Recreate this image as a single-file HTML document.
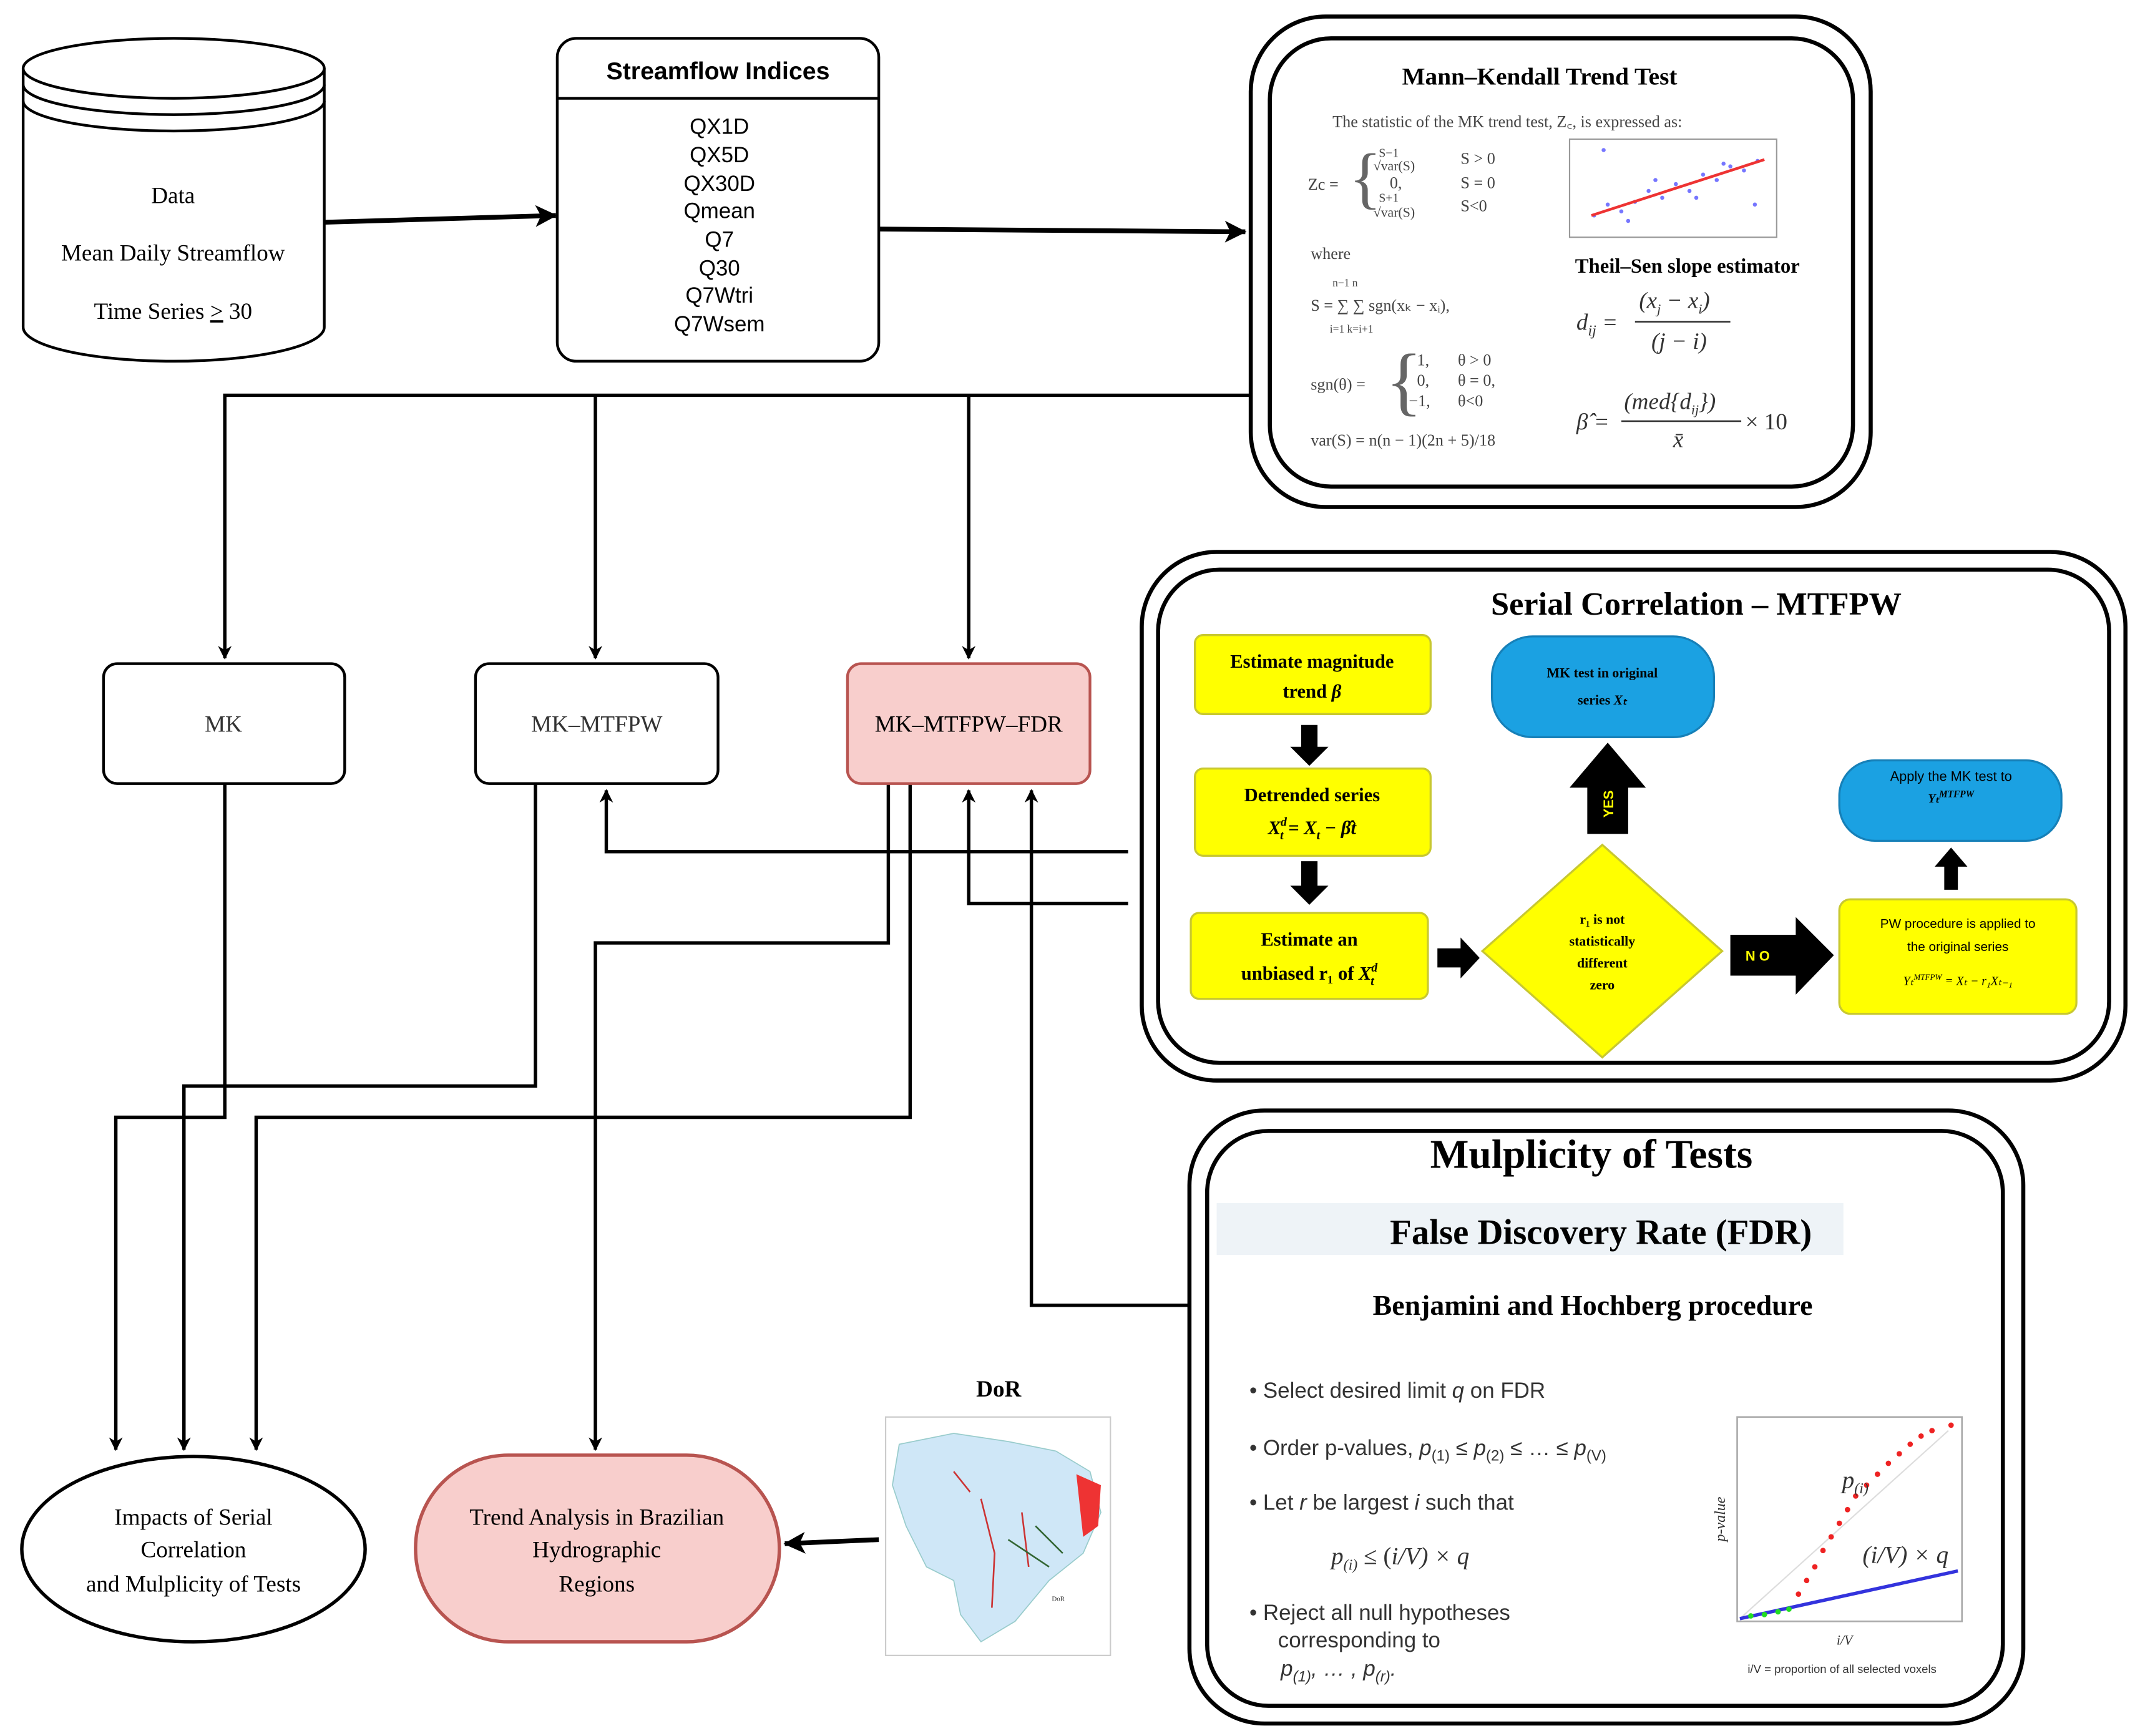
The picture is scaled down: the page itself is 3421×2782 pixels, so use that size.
<!DOCTYPE html>
<html><head><meta charset="utf-8"><style>
html,body{margin:0;padding:0;background:#fff}
svg{display:block}
</style></head><body>
<svg width="3421" height="2782" viewBox="0 0 1567 1274" xmlns="http://www.w3.org/2000/svg" font-family="Liberation Serif, serif">
<defs>
<marker id="a" markerWidth="10" markerHeight="10" refX="9" refY="5" orient="auto" markerUnits="userSpaceOnUse"><path d="M0,0 L10,5 L0,10 L3,5 z" fill="#000"/></marker>
<marker id="b" markerWidth="16" markerHeight="16" refX="15" refY="8" orient="auto" markerUnits="userSpaceOnUse"><path d="M0,0 L16,8 L0,16 L4,8 z" fill="#000"/></marker>
</defs>
<rect width="1567" height="1274" fill="#fff"/>

<!-- Cylinder -->
<g stroke="#000" stroke-width="2" fill="#fff">
<path d="M17,50 L17,240 A110.5,25 0 0 0 238,240 L238,50"/>
<ellipse cx="127.5" cy="50" rx="110.5" ry="22"/>
<path d="M17,62 A110.5,22 0 0 0 238,62" fill="none"/>
<path d="M17,74 A110.5,22 0 0 0 238,74" fill="none"/>
</g>
<g font-size="17" text-anchor="middle">
<text x="127" y="149">Data</text>
<text x="127" y="191">Mean Daily Streamflow</text>
<text x="127" y="234">Time Series <tspan text-decoration="underline">&gt;</tspan> 30</text>
</g>

<!-- arrows top -->
<g stroke="#000" stroke-width="3.5" fill="none">
<line x1="238" y1="163" x2="408" y2="158" marker-end="url(#b)"/>
<line x1="645" y1="168" x2="914" y2="170" marker-end="url(#b)"/>
</g>

<!-- Streamflow Indices -->
<rect x="409" y="28" width="236" height="237" rx="14" fill="#fff" stroke="#000" stroke-width="2"/>
<line x1="409" y1="72" x2="645" y2="72" stroke="#000" stroke-width="2"/>
<g font-family="Liberation Sans, sans-serif" text-anchor="middle">
<text x="527" y="58" font-size="18" font-weight="bold">Streamflow Indices</text>
<g font-size="16">
<text x="528" y="98">QX1D</text><text x="528" y="119">QX5D</text><text x="528" y="140">QX30D</text>
<text x="528" y="160">Qmean</text><text x="528" y="181">Q7</text><text x="528" y="202">Q30</text>
<text x="528" y="222">Q7Wtri</text><text x="528" y="243">Q7Wsem</text>
</g></g>

<!-- MK Trend Test box -->
<rect x="918" y="12" width="455" height="360" rx="55" fill="#fff" stroke="#000" stroke-width="3"/>
<rect x="932" y="28" width="428" height="329" rx="45" fill="#fff" stroke="#000" stroke-width="3"/>
<text x="1130" y="62" font-size="18" font-weight="bold" text-anchor="middle">Mann–Kendall Trend Test</text>
<g font-size="12" fill="#444">
<text x="978" y="93">The statistic of the MK trend test, Z꜀, is expressed as:</text>
<text x="960" y="139">Zc =</text>
<text x="990" y="147" font-size="50" fill="#666">{</text>
<text x="1012" y="115" font-size="9">S−1</text><text x="1008" y="125" font-size="10">√var(S)</text>
<text x="1072" y="120">S &gt; 0</text>
<text x="1020" y="138">0,</text><text x="1072" y="138">S = 0</text>
<text x="1012" y="148" font-size="9">S+1</text><text x="1008" y="159" font-size="10">√var(S)</text>
<text x="1072" y="155">S&lt;0</text>
<text x="962" y="190">where</text>
<text x="962" y="228">S = ∑ ∑ sgn(xₖ − xᵢ),</text>
<text x="978" y="210" font-size="8">n−1  n</text>
<text x="976" y="244" font-size="8">i=1  k=i+1</text>
<text x="962" y="286">sgn(θ) =</text>
<text x="1017" y="298" font-size="56" fill="#666">{</text>
<text x="1040" y="268">1,</text><text x="1070" y="268">θ &gt; 0</text>
<text x="1040" y="283">0,</text><text x="1070" y="283">θ = 0,</text>
<text x="1034" y="298">−1,</text><text x="1070" y="298">θ&lt;0</text>
<text x="962" y="327">var(S) = n(n − 1)(2n + 5)/18</text>
</g>
<!-- scatter -->
<rect x="1152" y="102" width="152" height="72" fill="#fff" stroke="#999" stroke-width="1"/>
<g fill="#55f" opacity="0.8">
<circle cx="1170" cy="158" r="1.5"/><circle cx="1180" cy="150" r="1.5"/><circle cx="1190" cy="155" r="1.5"/><circle cx="1200" cy="148" r="1.5"/><circle cx="1210" cy="140" r="1.5"/><circle cx="1220" cy="145" r="1.5"/><circle cx="1230" cy="135" r="1.5"/><circle cx="1240" cy="140" r="1.5"/><circle cx="1250" cy="128" r="1.5"/><circle cx="1260" cy="132" r="1.5"/><circle cx="1270" cy="122" r="1.5"/><circle cx="1280" cy="125" r="1.5"/><circle cx="1290" cy="118" r="1.5"/><circle cx="1177" cy="110" r="1.5"/><circle cx="1288" cy="150" r="1.5"/><circle cx="1215" cy="132" r="1.5"/><circle cx="1245" cy="145" r="1.5"/><circle cx="1265" cy="120" r="1.5"/><circle cx="1195" cy="162" r="1.5"/>
</g>
<line x1="1168" y1="158" x2="1295" y2="117" stroke="#e33" stroke-width="2"/>
<text x="1156" y="200" font-size="15" font-weight="bold">Theil–Sen slope estimator</text>
<g font-size="17" font-style="italic" fill="#333">
<text x="1157" y="242">d<tspan font-size="11" dy="4">ij</tspan><tspan dy="-4"> =</tspan></text>
<text x="1203" y="226">(x<tspan font-size="10" dy="4">j</tspan><tspan dy="-4"> − x</tspan><tspan font-size="10" dy="4">i</tspan><tspan dy="-4">)</tspan></text>
<line x1="1200" y1="236" x2="1270" y2="236" stroke="#333" stroke-width="1.2"/>
<text x="1212" y="256">(j − i)</text>
<text x="1157" y="315">β̂ =</text>
<text x="1192" y="300">(med{d<tspan font-size="10" dy="4">ij</tspan><tspan dy="-4">})</tspan></text>
<line x1="1190" y1="309" x2="1278" y2="309" stroke="#333" stroke-width="1.2"/>
<text x="1228" y="328">x̄</text>
<text x="1281" y="315" font-style="normal">× 10</text>
</g>

<!-- distribution lines -->
<g stroke="#000" stroke-width="2.5" fill="none">
<polyline points="918,290 165,290 165,483" marker-end="url(#a)"/>
<line x1="437" y1="290" x2="437" y2="483" marker-end="url(#a)"/>
<line x1="711" y1="290" x2="711" y2="483" marker-end="url(#a)"/>
<!-- from serial -->
<polyline points="828,625 445,625 445,580" marker-end="url(#a)"/>
<polyline points="828,663 711,663 711,580" marker-end="url(#a)"/>
<!-- from multiplicity -->
<polyline points="875,958 757,958 757,580" marker-end="url(#a)"/>
<!-- to impacts -->
<polyline points="165,575 165,820 85,820 85,1064" marker-end="url(#a)"/>
<polyline points="393,575 393,797 135,797 135,1064" marker-end="url(#a)"/>
<polyline points="668,575 668,820 188,820 188,1064" marker-end="url(#a)"/>
<polyline points="652,575 652,692 437,692 437,1064" marker-end="url(#a)"/>
</g>
<line x1="645" y1="1130" x2="576" y2="1133" stroke="#000" stroke-width="3.5" marker-end="url(#b)"/>

<!-- MK boxes -->
<g stroke-width="2">
<rect x="76" y="487" width="177" height="88" rx="10" fill="#fff" stroke="#000"/>
<rect x="349" y="487" width="178" height="88" rx="10" fill="#fff" stroke="#000"/>
<rect x="622" y="487" width="178" height="88" rx="10" fill="#f8cecc" stroke="#b85450"/>
</g>
<g font-size="17" text-anchor="middle">
<text x="164" y="537" fill="#333">MK</text>
<text x="438" y="537" fill="#333">MK–MTFPW</text>
<text x="711" y="537">MK–MTFPW–FDR</text>
</g>

<!-- Serial correlation box -->
<rect x="838" y="405" width="722" height="388" rx="55" fill="#fff" stroke="#000" stroke-width="3"/>
<rect x="850" y="418" width="698" height="362" rx="45" fill="#fff" stroke="#000" stroke-width="3"/>
<text x="1245" y="451" font-size="24" font-weight="bold" text-anchor="middle">Serial Correlation – MTFPW</text>
<g fill="#ffff00" stroke="#c8c830" stroke-width="1.5">
<rect x="877" y="466" width="173" height="58" rx="6"/>
<rect x="877" y="564" width="173" height="64" rx="6"/>
<rect x="874" y="670" width="174" height="63" rx="6"/>
<rect x="1350" y="660" width="174" height="84" rx="8"/>
<polygon points="1176,620 1264,698 1176,776 1088,698"/>
</g>
<g fill="#1ba1e2" stroke="#1680b8" stroke-width="1.5">
<rect x="1095" y="467" width="163" height="74" rx="30"/>
<rect x="1350" y="558" width="163" height="59" rx="26"/>
</g>
<g fill="#000">
<polygon points="955,532 967,532 967,548 975,548 961,562 947,548 955,548"/>
<polygon points="955,632 967,632 967,650 975,650 961,664 947,650 955,650"/>
<polygon points="1055,696 1072,696 1072,688 1086,703 1072,718 1072,710 1055,710"/>
<polygon points="1165,612 1195,612 1195,578 1208,578 1180,545 1152,578 1165,578"/>
<polygon points="1270,686 1318,686 1318,673 1346,701 1318,730 1318,716 1270,716"/>
<polygon points="1427,653 1437,653 1437,636 1444,636 1432,622 1420,636 1427,636"/>
</g>
<text x="1184" y="590" font-family="Liberation Sans, sans-serif" font-size="10" font-weight="bold" fill="#ff0" transform="rotate(-90 1184 590)" text-anchor="middle">YES</text>
<text x="1290" y="705" font-family="Liberation Sans, sans-serif" font-size="10" font-weight="bold" fill="#ff0" text-anchor="middle">N O</text>
<g font-size="14" font-weight="bold" text-anchor="middle">
<text x="963" y="490">Estimate magnitude</text><text x="963" y="512">trend <tspan font-style="italic">β</tspan></text>
<text x="963" y="588">Detrended series</text><text x="963" y="612" font-style="italic">X<tspan font-size="9" dy="-6">d</tspan><tspan font-size="9" dx="-5" dy="10">t</tspan><tspan dy="-4"> = X</tspan><tspan font-size="9" dy="4">t</tspan><tspan dy="-4"> − β̂t</tspan></text>
<text x="961" y="694">Estimate an</text><text x="961" y="719">unbiased r₁ of <tspan font-style="italic">X<tspan font-size="9" dy="-6">d</tspan><tspan font-size="9" dx="-5" dy="10">t</tspan></tspan></text>
</g>
<g font-size="10" font-weight="bold" text-anchor="middle">
<text x="1176" y="678">r₁ is not</text><text x="1176" y="694">statistically</text><text x="1176" y="710">different</text><text x="1176" y="726">zero</text>
<text x="1176" y="497">MK test in original</text><text x="1176" y="517">series <tspan font-style="italic">Xₜ</tspan></text>
<text x="1432" y="573" font-family="Liberation Sans, sans-serif" font-weight="normal">Apply the MK test to</text>
<text x="1432" y="589" font-style="italic" font-size="9">Yₜ<tspan dy="-4" font-size="7">MTFPW</tspan></text>
<g font-family="Liberation Sans, sans-serif" font-weight="normal" font-size="9.5">
<text x="1437" y="681">PW procedure is applied to</text><text x="1437" y="698">the original series</text></g>
<text x="1437" y="723" font-style="italic" font-size="9" font-weight="normal">Yₜ<tspan dy="-4" font-size="6">MTFPW</tspan><tspan dy="4"> = Xₜ − r₁Xₜ₋₁</tspan></text>
</g>

<!-- Multiplicity box -->
<rect x="873" y="815" width="612" height="450" rx="55" fill="#fff" stroke="#000" stroke-width="3"/>
<rect x="886" y="830" width="584" height="422" rx="45" fill="#fff" stroke="#000" stroke-width="3"/>
<rect x="893" y="883" width="460" height="38" fill="#eef3f7"/>
<g text-anchor="middle" font-weight="bold">
<text x="1168" y="857" font-size="30">Mulplicity of Tests</text>
<text x="1175" y="913" font-size="26">False Discovery Rate (FDR)</text>
<text x="1169" y="965" font-size="21">Benjamini and Hochberg procedure</text>
</g>
<g font-family="Liberation Sans, sans-serif" font-size="16" fill="#333">
<text x="917" y="1026">•  Select desired limit <tspan font-style="italic">q</tspan> on FDR</text>
<text x="917" y="1068">•  Order p-values, <tspan font-style="italic">p</tspan><tspan font-size="11" dy="4">(1)</tspan><tspan dy="-4"> ≤ </tspan><tspan font-style="italic">p</tspan><tspan font-size="11" dy="4">(2)</tspan><tspan dy="-4"> ≤  … ≤ </tspan><tspan font-style="italic">p</tspan><tspan font-size="11" dy="4">(V)</tspan></text>
<text x="917" y="1108">•  Let <tspan font-style="italic">r</tspan> be largest <tspan font-style="italic">i</tspan> such that</text>
<text x="977" y="1148" font-family="Liberation Serif, serif" font-style="italic" font-size="18">p<tspan font-size="11" dy="4">(i)</tspan><tspan dy="-4" font-style="normal"> ≤  (</tspan>i/V) × q</text>
<text x="917" y="1189">•  Reject all null hypotheses</text>
<text x="938" y="1209">corresponding to</text>
<text x="940" y="1230" font-style="italic">p<tspan font-size="11" dy="4">(1)</tspan><tspan dy="-4">, … , p</tspan><tspan font-size="11" dy="4">(r)</tspan><tspan dy="-4">.</tspan></text>
</g>
<!-- FDR chart -->
<rect x="1275" y="1040" width="165" height="150" fill="#fff" stroke="#aaa" stroke-width="1.2"/>
<line x1="1277" y1="1188" x2="1430" y2="1050" stroke="#ddd" stroke-width="1"/>
<line x1="1277" y1="1188" x2="1437" y2="1153" stroke="#3333dd" stroke-width="2.5"/>
<g fill="#e22">
<circle cx="1320" cy="1170" r="2"/><circle cx="1326" cy="1160" r="2"/><circle cx="1332" cy="1150" r="2"/><circle cx="1338" cy="1138" r="2"/><circle cx="1344" cy="1128" r="2"/><circle cx="1350" cy="1118" r="2"/><circle cx="1356" cy="1108" r="2"/><circle cx="1362" cy="1098" r="2"/><circle cx="1370" cy="1090" r="2"/><circle cx="1378" cy="1082" r="2"/><circle cx="1386" cy="1074" r="2"/><circle cx="1394" cy="1067" r="2"/><circle cx="1402" cy="1060" r="2"/><circle cx="1410" cy="1054" r="2"/><circle cx="1418" cy="1050" r="2"/><circle cx="1432" cy="1046" r="2"/>
</g>
<g fill="#2d2"><circle cx="1285" cy="1186" r="2"/><circle cx="1295" cy="1185" r="2"/><circle cx="1305" cy="1183" r="2"/><circle cx="1313" cy="1181" r="2"/></g>
<g font-style="italic" fill="#333">
<text x="1352" y="1092" font-size="18">p<tspan font-size="11" dy="4">(i)</tspan></text>
<text x="1367" y="1147" font-size="18">(i/V) × q</text>
<text x="1348" y="1207" font-size="10">i/V</text>
<text x="1266" y="1115" font-size="11" transform="rotate(-90 1266 1115)" text-anchor="middle">p-value</text>
</g>
<text x="1352" y="1228" font-family="Liberation Sans, sans-serif" font-size="8.5" text-anchor="middle" fill="#333">i/V = proportion of all selected voxels</text>

<!-- Impacts ellipse -->
<ellipse cx="142" cy="1137" rx="126" ry="68" fill="#fff" stroke="#000" stroke-width="2.5"/>
<g font-size="17" text-anchor="middle">
<text x="142" y="1119">Impacts of Serial</text><text x="142" y="1143">Correlation</text><text x="142" y="1168">and Mulplicity of Tests</text>
</g>
<!-- Trend analysis -->
<rect x="305" y="1068" width="267" height="137" rx="68" fill="#f8cecc" stroke="#b85450" stroke-width="2.5"/>
<g font-size="17" text-anchor="middle">
<text x="438" y="1119">Trend Analysis in Brazilian</text><text x="438" y="1143">Hydrographic</text><text x="438" y="1168">Regions</text>
</g>

<!-- DoR map -->
<text x="733" y="1025" font-size="17" font-weight="bold" text-anchor="middle">DoR</text>
<rect x="650" y="1040" width="165" height="175" fill="#fff" stroke="#ccc" stroke-width="1"/>
<path d="M660,1060 L700,1052 L740,1058 L775,1065 L800,1080 L808,1110 L795,1140 L770,1160 L745,1190 L720,1205 L705,1185 L700,1160 L680,1150 L665,1120 L655,1090 Z" fill="#cfe7f7" stroke="#9cc" stroke-width="0.8"/>
<path d="M790,1082 L808,1090 L806,1120 L795,1128 Z" fill="#e33"/>
<g stroke="#c33" stroke-width="1.2" fill="none">
<path d="M720,1100 L730,1140 L728,1180"/><path d="M750,1110 L755,1150"/><path d="M700,1080 L712,1095"/>
</g>
<g stroke="#363" stroke-width="1.2"><path d="M740,1130 L770,1150"/><path d="M760,1120 L780,1140"/></g>
<rect x="770" y="1165" width="40" height="45" fill="#fff"/>
<text x="772" y="1175" font-size="5" fill="#333">DoR</text>
</svg>
</body></html>
